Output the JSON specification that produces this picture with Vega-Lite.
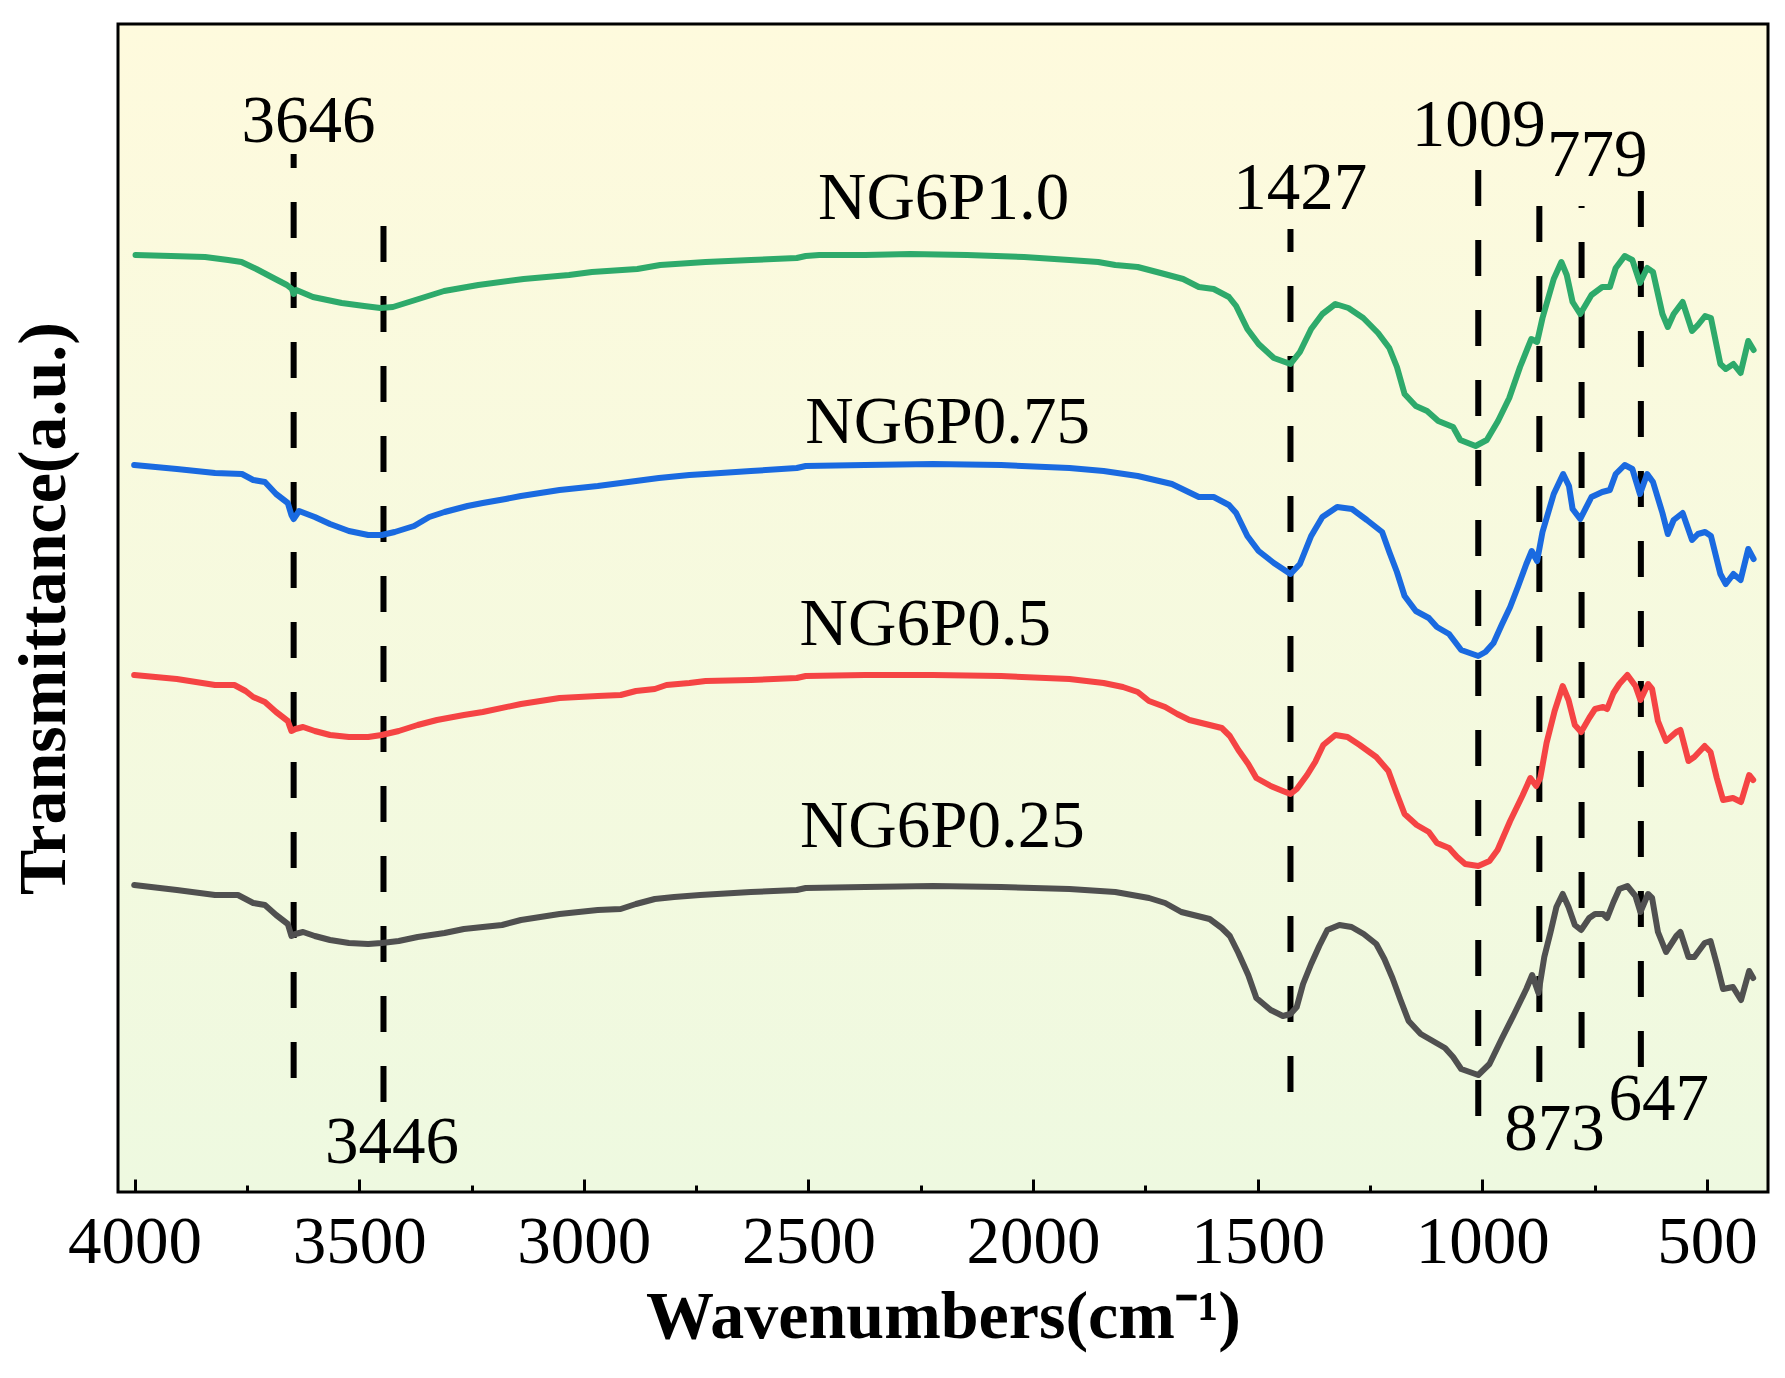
{
  "$schema": "https://vega.github.io/schema/vega-lite/v6.json",
  "width": 1650,
  "height": 1168,
  "autosize": {"type": "none"},
  "padding": {"left": 118, "top": 24, "right": 17, "bottom": 186},
  "background": "white",
  "config": {
    "view": {
      "stroke": "black",
      "strokeWidth": 3,
      "fill": {"gradient": "linear", "x1": 0, "y1": 0, "x2": 0, "y2": 1,
        "stops": [{"offset": 0, "color": "#fefadd"}, {"offset": 1, "color": "#eef9e0"}]}
    },
    "font": "Liberation Serif",
    "axis": {"labelFont": "Liberation Serif", "titleFont": "Liberation Serif", "grid": false},
    "axisY": {"ticks": false, "labels": false, "domain": false, "titleFontSize": 68, "titleFontWeight": "bold", "titleColor": "black", "titlePadding": 40}
  },
  "datasets": {
    "spectra": [
      {"s":"NG6P1.0","w":3998,"t":937},{"s":"NG6P1.0","w":3919,"t":936},{"s":"NG6P1.0","w":3843,"t":935},{"s":"NG6P1.0","w":3792,"t":932},{"s":"NG6P1.0","w":3762,"t":930},{"s":"NG6P1.0","w":3729,"t":923},{"s":"NG6P1.0","w":3691,"t":914},{"s":"NG6P1.0","w":3661,"t":907},{"s":"NG6P1.0","w":3650,"t":903},{"s":"NG6P1.0","w":3646,"t":898},{"s":"NG6P1.0","w":3640,"t":902},{"s":"NG6P1.0","w":3603,"t":895},{"s":"NG6P1.0","w":3539,"t":889},{"s":"NG6P1.0","w":3489,"t":886},{"s":"NG6P1.0","w":3453,"t":884},{"s":"NG6P1.0","w":3425,"t":885},{"s":"NG6P1.0","w":3375,"t":892},{"s":"NG6P1.0","w":3311,"t":901},{"s":"NG6P1.0","w":3235,"t":907},{"s":"NG6P1.0","w":3134,"t":913},{"s":"NG6P1.0","w":3033,"t":917},{"s":"NG6P1.0","w":2982,"t":920},{"s":"NG6P1.0","w":2881,"t":923},{"s":"NG6P1.0","w":2830,"t":927},{"s":"NG6P1.0","w":2729,"t":930},{"s":"NG6P1.0","w":2628,"t":932},{"s":"NG6P1.0","w":2526,"t":934},{"s":"NG6P1.0","w":2506,"t":936},{"s":"NG6P1.0","w":2476,"t":937},{"s":"NG6P1.0","w":2374,"t":937},{"s":"NG6P1.0","w":2273,"t":938},{"s":"NG6P1.0","w":2147,"t":937},{"s":"NG6P1.0","w":2020,"t":935},{"s":"NG6P1.0","w":1919,"t":932},{"s":"NG6P1.0","w":1855,"t":930},{"s":"NG6P1.0","w":1817,"t":927},{"s":"NG6P1.0","w":1767,"t":925},{"s":"NG6P1.0","w":1716,"t":919},{"s":"NG6P1.0","w":1666,"t":913},{"s":"NG6P1.0","w":1631,"t":905},{"s":"NG6P1.0","w":1598,"t":903},{"s":"NG6P1.0","w":1564,"t":895},{"s":"NG6P1.0","w":1548,"t":886},{"s":"NG6P1.0","w":1523,"t":863},{"s":"NG6P1.0","w":1498,"t":848},{"s":"NG6P1.0","w":1464,"t":834},{"s":"NG6P1.0","w":1427,"t":828},{"s":"NG6P1.0","w":1406,"t":840},{"s":"NG6P1.0","w":1381,"t":863},{"s":"NG6P1.0","w":1356,"t":878},{"s":"NG6P1.0","w":1327,"t":888},{"s":"NG6P1.0","w":1298,"t":884},{"s":"NG6P1.0","w":1265,"t":874},{"s":"NG6P1.0","w":1232,"t":859},{"s":"NG6P1.0","w":1207,"t":844},{"s":"NG6P1.0","w":1190,"t":825},{"s":"NG6P1.0","w":1173,"t":798},{"s":"NG6P1.0","w":1148,"t":786},{"s":"NG6P1.0","w":1123,"t":781},{"s":"NG6P1.0","w":1098,"t":771},{"s":"NG6P1.0","w":1065,"t":765},{"s":"NG6P1.0","w":1049,"t":752},{"s":"NG6P1.0","w":1015,"t":746},{"s":"NG6P1.0","w":990,"t":752},{"s":"NG6P1.0","w":965,"t":771},{"s":"NG6P1.0","w":940,"t":794},{"s":"NG6P1.0","w":916,"t":825},{"s":"NG6P1.0","w":891,"t":853},{"s":"NG6P1.0","w":878,"t":850},{"s":"NG6P1.0","w":866,"t":874},{"s":"NG6P1.0","w":841,"t":913},{"s":"NG6P1.0","w":824,"t":930},{"s":"NG6P1.0","w":812,"t":917},{"s":"NG6P1.0","w":799,"t":890},{"s":"NG6P1.0","w":782,"t":878},{"s":"NG6P1.0","w":757,"t":897},{"s":"NG6P1.0","w":733,"t":905},{"s":"NG6P1.0","w":716,"t":905},{"s":"NG6P1.0","w":703,"t":924},{"s":"NG6P1.0","w":683,"t":936},{"s":"NG6P1.0","w":666,"t":932},{"s":"NG6P1.0","w":649,"t":909},{"s":"NG6P1.0","w":633,"t":924},{"s":"NG6P1.0","w":620,"t":920},{"s":"NG6P1.0","w":599,"t":878},{"s":"NG6P1.0","w":587,"t":865},{"s":"NG6P1.0","w":574,"t":878},{"s":"NG6P1.0","w":554,"t":890},{"s":"NG6P1.0","w":533,"t":861},{"s":"NG6P1.0","w":520,"t":867},{"s":"NG6P1.0","w":504,"t":876},{"s":"NG6P1.0","w":491,"t":874},{"s":"NG6P1.0","w":470,"t":828},{"s":"NG6P1.0","w":458,"t":823},{"s":"NG6P1.0","w":441,"t":828},{"s":"NG6P1.0","w":425,"t":819},{"s":"NG6P1.0","w":408,"t":851},{"s":"NG6P1.0","w":396,"t":842},

      {"s":"NG6P0.75","w":4001,"t":727},{"s":"NG6P0.75","w":3906,"t":723},{"s":"NG6P0.75","w":3821,"t":719},{"s":"NG6P0.75","w":3761,"t":718},{"s":"NG6P0.75","w":3736,"t":712},{"s":"NG6P0.75","w":3710,"t":710},{"s":"NG6P0.75","w":3685,"t":698},{"s":"NG6P0.75","w":3659,"t":689},{"s":"NG6P0.75","w":3651,"t":677},{"s":"NG6P0.75","w":3646,"t":673},{"s":"NG6P0.75","w":3634,"t":681},{"s":"NG6P0.75","w":3599,"t":675},{"s":"NG6P0.75","w":3565,"t":668},{"s":"NG6P0.75","w":3523,"t":661},{"s":"NG6P0.75","w":3480,"t":657},{"s":"NG6P0.75","w":3450,"t":657},{"s":"NG6P0.75","w":3421,"t":660},{"s":"NG6P0.75","w":3378,"t":666},{"s":"NG6P0.75","w":3344,"t":675},{"s":"NG6P0.75","w":3310,"t":680},{"s":"NG6P0.75","w":3259,"t":686},{"s":"NG6P0.75","w":3225,"t":689},{"s":"NG6P0.75","w":3174,"t":693},{"s":"NG6P0.75","w":3140,"t":696},{"s":"NG6P0.75","w":3054,"t":702},{"s":"NG6P0.75","w":2969,"t":706},{"s":"NG6P0.75","w":2884,"t":711},{"s":"NG6P0.75","w":2833,"t":714},{"s":"NG6P0.75","w":2765,"t":717},{"s":"NG6P0.75","w":2729,"t":718},{"s":"NG6P0.75","w":2628,"t":721},{"s":"NG6P0.75","w":2526,"t":724},{"s":"NG6P0.75","w":2506,"t":726},{"s":"NG6P0.75","w":2374,"t":727},{"s":"NG6P0.75","w":2223,"t":728},{"s":"NG6P0.75","w":2071,"t":727},{"s":"NG6P0.75","w":1919,"t":724},{"s":"NG6P0.75","w":1843,"t":721},{"s":"NG6P0.75","w":1767,"t":716},{"s":"NG6P0.75","w":1691,"t":708},{"s":"NG6P0.75","w":1631,"t":695},{"s":"NG6P0.75","w":1598,"t":695},{"s":"NG6P0.75","w":1564,"t":687},{"s":"NG6P0.75","w":1548,"t":679},{"s":"NG6P0.75","w":1523,"t":656},{"s":"NG6P0.75","w":1498,"t":641},{"s":"NG6P0.75","w":1464,"t":629},{"s":"NG6P0.75","w":1427,"t":618},{"s":"NG6P0.75","w":1406,"t":628},{"s":"NG6P0.75","w":1381,"t":656},{"s":"NG6P0.75","w":1356,"t":675},{"s":"NG6P0.75","w":1323,"t":685},{"s":"NG6P0.75","w":1290,"t":683},{"s":"NG6P0.75","w":1257,"t":672},{"s":"NG6P0.75","w":1223,"t":660},{"s":"NG6P0.75","w":1207,"t":640},{"s":"NG6P0.75","w":1190,"t":620},{"s":"NG6P0.75","w":1173,"t":596},{"s":"NG6P0.75","w":1148,"t":581},{"s":"NG6P0.75","w":1119,"t":574},{"s":"NG6P0.75","w":1101,"t":565},{"s":"NG6P0.75","w":1074,"t":558},{"s":"NG6P0.75","w":1047,"t":542},{"s":"NG6P0.75","w":1009,"t":536},{"s":"NG6P0.75","w":993,"t":540},{"s":"NG6P0.75","w":975,"t":549},{"s":"NG6P0.75","w":957,"t":567},{"s":"NG6P0.75","w":938,"t":585},{"s":"NG6P0.75","w":920,"t":606},{"s":"NG6P0.75","w":902,"t":628},{"s":"NG6P0.75","w":890,"t":641},{"s":"NG6P0.75","w":878,"t":631},{"s":"NG6P0.75","w":866,"t":660},{"s":"NG6P0.75","w":841,"t":698},{"s":"NG6P0.75","w":820,"t":718},{"s":"NG6P0.75","w":807,"t":706},{"s":"NG6P0.75","w":799,"t":683},{"s":"NG6P0.75","w":782,"t":673},{"s":"NG6P0.75","w":757,"t":695},{"s":"NG6P0.75","w":733,"t":700},{"s":"NG6P0.75","w":716,"t":702},{"s":"NG6P0.75","w":703,"t":718},{"s":"NG6P0.75","w":683,"t":727},{"s":"NG6P0.75","w":666,"t":723},{"s":"NG6P0.75","w":649,"t":698},{"s":"NG6P0.75","w":633,"t":718},{"s":"NG6P0.75","w":620,"t":710},{"s":"NG6P0.75","w":599,"t":679},{"s":"NG6P0.75","w":587,"t":658},{"s":"NG6P0.75","w":574,"t":672},{"s":"NG6P0.75","w":554,"t":679},{"s":"NG6P0.75","w":533,"t":652},{"s":"NG6P0.75","w":520,"t":658},{"s":"NG6P0.75","w":504,"t":660},{"s":"NG6P0.75","w":491,"t":656},{"s":"NG6P0.75","w":470,"t":618},{"s":"NG6P0.75","w":458,"t":608},{"s":"NG6P0.75","w":441,"t":618},{"s":"NG6P0.75","w":425,"t":612},{"s":"NG6P0.75","w":408,"t":643},{"s":"NG6P0.75","w":396,"t":633},

      {"s":"NG6P0.5","w":4001,"t":517},{"s":"NG6P0.5","w":3906,"t":513},{"s":"NG6P0.5","w":3821,"t":507},{"s":"NG6P0.5","w":3778,"t":507},{"s":"NG6P0.5","w":3753,"t":501},{"s":"NG6P0.5","w":3736,"t":495},{"s":"NG6P0.5","w":3710,"t":490},{"s":"NG6P0.5","w":3685,"t":480},{"s":"NG6P0.5","w":3659,"t":471},{"s":"NG6P0.5","w":3651,"t":461},{"s":"NG6P0.5","w":3642,"t":463},{"s":"NG6P0.5","w":3625,"t":465},{"s":"NG6P0.5","w":3599,"t":461},{"s":"NG6P0.5","w":3565,"t":457},{"s":"NG6P0.5","w":3523,"t":455},{"s":"NG6P0.5","w":3480,"t":455},{"s":"NG6P0.5","w":3450,"t":457},{"s":"NG6P0.5","w":3412,"t":461},{"s":"NG6P0.5","w":3370,"t":467},{"s":"NG6P0.5","w":3327,"t":472},{"s":"NG6P0.5","w":3267,"t":477},{"s":"NG6P0.5","w":3225,"t":480},{"s":"NG6P0.5","w":3140,"t":488},{"s":"NG6P0.5","w":3054,"t":494},{"s":"NG6P0.5","w":2969,"t":496},{"s":"NG6P0.5","w":2918,"t":497},{"s":"NG6P0.5","w":2884,"t":501},{"s":"NG6P0.5","w":2842,"t":503},{"s":"NG6P0.5","w":2816,"t":507},{"s":"NG6P0.5","w":2765,"t":509},{"s":"NG6P0.5","w":2729,"t":511},{"s":"NG6P0.5","w":2628,"t":512},{"s":"NG6P0.5","w":2526,"t":514},{"s":"NG6P0.5","w":2506,"t":516},{"s":"NG6P0.5","w":2374,"t":517},{"s":"NG6P0.5","w":2223,"t":517},{"s":"NG6P0.5","w":2071,"t":516},{"s":"NG6P0.5","w":1919,"t":513},{"s":"NG6P0.5","w":1843,"t":509},{"s":"NG6P0.5","w":1800,"t":505},{"s":"NG6P0.5","w":1767,"t":500},{"s":"NG6P0.5","w":1742,"t":491},{"s":"NG6P0.5","w":1706,"t":485},{"s":"NG6P0.5","w":1679,"t":478},{"s":"NG6P0.5","w":1652,"t":472},{"s":"NG6P0.5","w":1607,"t":467},{"s":"NG6P0.5","w":1580,"t":464},{"s":"NG6P0.5","w":1562,"t":456},{"s":"NG6P0.5","w":1543,"t":442},{"s":"NG6P0.5","w":1521,"t":428},{"s":"NG6P0.5","w":1503,"t":414},{"s":"NG6P0.5","w":1471,"t":406},{"s":"NG6P0.5","w":1444,"t":401},{"s":"NG6P0.5","w":1427,"t":398},{"s":"NG6P0.5","w":1413,"t":403},{"s":"NG6P0.5","w":1390,"t":417},{"s":"NG6P0.5","w":1372,"t":430},{"s":"NG6P0.5","w":1354,"t":447},{"s":"NG6P0.5","w":1327,"t":457},{"s":"NG6P0.5","w":1300,"t":455},{"s":"NG6P0.5","w":1273,"t":447},{"s":"NG6P0.5","w":1236,"t":435},{"s":"NG6P0.5","w":1209,"t":421},{"s":"NG6P0.5","w":1191,"t":399},{"s":"NG6P0.5","w":1173,"t":378},{"s":"NG6P0.5","w":1146,"t":367},{"s":"NG6P0.5","w":1119,"t":360},{"s":"NG6P0.5","w":1101,"t":349},{"s":"NG6P0.5","w":1074,"t":344},{"s":"NG6P0.5","w":1056,"t":335},{"s":"NG6P0.5","w":1038,"t":328},{"s":"NG6P0.5","w":1009,"t":326},{"s":"NG6P0.5","w":984,"t":331},{"s":"NG6P0.5","w":966,"t":342},{"s":"NG6P0.5","w":938,"t":371},{"s":"NG6P0.5","w":911,"t":396},{"s":"NG6P0.5","w":893,"t":414},{"s":"NG6P0.5","w":880,"t":406},{"s":"NG6P0.5","w":871,"t":414},{"s":"NG6P0.5","w":857,"t":449},{"s":"NG6P0.5","w":839,"t":481},{"s":"NG6P0.5","w":821,"t":506},{"s":"NG6P0.5","w":808,"t":492},{"s":"NG6P0.5","w":794,"t":467},{"s":"NG6P0.5","w":780,"t":460},{"s":"NG6P0.5","w":762,"t":474},{"s":"NG6P0.5","w":749,"t":483},{"s":"NG6P0.5","w":731,"t":485},{"s":"NG6P0.5","w":722,"t":483},{"s":"NG6P0.5","w":708,"t":499},{"s":"NG6P0.5","w":695,"t":508},{"s":"NG6P0.5","w":677,"t":517},{"s":"NG6P0.5","w":659,"t":506},{"s":"NG6P0.5","w":648,"t":492},{"s":"NG6P0.5","w":631,"t":508},{"s":"NG6P0.5","w":622,"t":503},{"s":"NG6P0.5","w":609,"t":471},{"s":"NG6P0.5","w":591,"t":451},{"s":"NG6P0.5","w":568,"t":460},{"s":"NG6P0.5","w":559,"t":462},{"s":"NG6P0.5","w":541,"t":431},{"s":"NG6P0.5","w":528,"t":435},{"s":"NG6P0.5","w":505,"t":446},{"s":"NG6P0.5","w":492,"t":440},{"s":"NG6P0.5","w":478,"t":414},{"s":"NG6P0.5","w":464,"t":392},{"s":"NG6P0.5","w":442,"t":394},{"s":"NG6P0.5","w":424,"t":390},{"s":"NG6P0.5","w":406,"t":417},{"s":"NG6P0.5","w":397,"t":412},

      {"s":"NG6P0.25","w":4001,"t":307},{"s":"NG6P0.25","w":3906,"t":302},{"s":"NG6P0.25","w":3821,"t":297},{"s":"NG6P0.25","w":3770,"t":297},{"s":"NG6P0.25","w":3753,"t":293},{"s":"NG6P0.25","w":3736,"t":289},{"s":"NG6P0.25","w":3710,"t":287},{"s":"NG6P0.25","w":3685,"t":277},{"s":"NG6P0.25","w":3659,"t":268},{"s":"NG6P0.25","w":3651,"t":256},{"s":"NG6P0.25","w":3642,"t":258},{"s":"NG6P0.25","w":3625,"t":260},{"s":"NG6P0.25","w":3599,"t":256},{"s":"NG6P0.25","w":3565,"t":252},{"s":"NG6P0.25","w":3523,"t":249},{"s":"NG6P0.25","w":3480,"t":248},{"s":"NG6P0.25","w":3450,"t":249},{"s":"NG6P0.25","w":3412,"t":251},{"s":"NG6P0.25","w":3370,"t":255},{"s":"NG6P0.25","w":3310,"t":259},{"s":"NG6P0.25","w":3267,"t":263},{"s":"NG6P0.25","w":3225,"t":265},{"s":"NG6P0.25","w":3182,"t":267},{"s":"NG6P0.25","w":3140,"t":272},{"s":"NG6P0.25","w":3054,"t":278},{"s":"NG6P0.25","w":2969,"t":282},{"s":"NG6P0.25","w":2918,"t":283},{"s":"NG6P0.25","w":2884,"t":288},{"s":"NG6P0.25","w":2842,"t":293},{"s":"NG6P0.25","w":2799,"t":295},{"s":"NG6P0.25","w":2741,"t":297},{"s":"NG6P0.25","w":2628,"t":300},{"s":"NG6P0.25","w":2526,"t":302},{"s":"NG6P0.25","w":2506,"t":304},{"s":"NG6P0.25","w":2374,"t":305},{"s":"NG6P0.25","w":2223,"t":306},{"s":"NG6P0.25","w":2071,"t":305},{"s":"NG6P0.25","w":1919,"t":303},{"s":"NG6P0.25","w":1817,"t":300},{"s":"NG6P0.25","w":1742,"t":294},{"s":"NG6P0.25","w":1706,"t":289},{"s":"NG6P0.25","w":1670,"t":280},{"s":"NG6P0.25","w":1652,"t":278},{"s":"NG6P0.25","w":1607,"t":273},{"s":"NG6P0.25","w":1580,"t":264},{"s":"NG6P0.25","w":1562,"t":256},{"s":"NG6P0.25","w":1543,"t":239},{"s":"NG6P0.25","w":1521,"t":217},{"s":"NG6P0.25","w":1503,"t":194},{"s":"NG6P0.25","w":1471,"t":182},{"s":"NG6P0.25","w":1444,"t":176},{"s":"NG6P0.25","w":1427,"t":178},{"s":"NG6P0.25","w":1413,"t":185},{"s":"NG6P0.25","w":1399,"t":208},{"s":"NG6P0.25","w":1381,"t":228},{"s":"NG6P0.25","w":1363,"t":246},{"s":"NG6P0.25","w":1345,"t":262},{"s":"NG6P0.25","w":1318,"t":267},{"s":"NG6P0.25","w":1291,"t":265},{"s":"NG6P0.25","w":1264,"t":258},{"s":"NG6P0.25","w":1236,"t":248},{"s":"NG6P0.25","w":1218,"t":233},{"s":"NG6P0.25","w":1200,"t":214},{"s":"NG6P0.25","w":1182,"t":192},{"s":"NG6P0.25","w":1164,"t":171},{"s":"NG6P0.25","w":1137,"t":158},{"s":"NG6P0.25","w":1110,"t":151},{"s":"NG6P0.25","w":1083,"t":144},{"s":"NG6P0.25","w":1065,"t":135},{"s":"NG6P0.25","w":1047,"t":123},{"s":"NG6P0.25","w":1009,"t":117},{"s":"NG6P0.25","w":984,"t":128},{"s":"NG6P0.25","w":957,"t":153},{"s":"NG6P0.25","w":929,"t":178},{"s":"NG6P0.25","w":902,"t":203},{"s":"NG6P0.25","w":889,"t":217},{"s":"NG6P0.25","w":875,"t":199},{"s":"NG6P0.25","w":862,"t":235},{"s":"NG6P0.25","w":848,"t":260},{"s":"NG6P0.25","w":835,"t":285},{"s":"NG6P0.25","w":821,"t":298},{"s":"NG6P0.25","w":808,"t":285},{"s":"NG6P0.25","w":794,"t":267},{"s":"NG6P0.25","w":780,"t":262},{"s":"NG6P0.25","w":762,"t":274},{"s":"NG6P0.25","w":749,"t":278},{"s":"NG6P0.25","w":731,"t":278},{"s":"NG6P0.25","w":722,"t":274},{"s":"NG6P0.25","w":708,"t":290},{"s":"NG6P0.25","w":695,"t":303},{"s":"NG6P0.25","w":677,"t":306},{"s":"NG6P0.25","w":659,"t":296},{"s":"NG6P0.25","w":648,"t":280},{"s":"NG6P0.25","w":631,"t":298},{"s":"NG6P0.25","w":622,"t":294},{"s":"NG6P0.25","w":609,"t":260},{"s":"NG6P0.25","w":591,"t":240},{"s":"NG6P0.25","w":568,"t":256},{"s":"NG6P0.25","w":559,"t":260},{"s":"NG6P0.25","w":541,"t":235},{"s":"NG6P0.25","w":528,"t":235},{"s":"NG6P0.25","w":505,"t":249},{"s":"NG6P0.25","w":492,"t":251},{"s":"NG6P0.25","w":478,"t":228},{"s":"NG6P0.25","w":464,"t":203},{"s":"NG6P0.25","w":442,"t":205},{"s":"NG6P0.25","w":424,"t":192},{"s":"NG6P0.25","w":406,"t":221},{"s":"NG6P0.25","w":397,"t":214}
    ],
    "peaks": [
      {"w": 3646, "bottom": 114, "top": 1038},
      {"w": 3446, "bottom": 90, "top": 967},
      {"w": 1427, "bottom": 100, "top": 963},
      {"w": 1009, "bottom": 76, "top": 1024},
      {"w": 873, "bottom": 110, "top": 988},
      {"w": 779, "bottom": 144, "top": 986},
      {"w": 647, "bottom": 125, "top": 1003}
    ],
    "labels": [
      {"label": "3646", "w": 3613, "y": 1050},
      {"label": "3446", "w": 3427, "y": 29},
      {"label": "1427", "w": 1405, "y": 983},
      {"label": "1009", "w": 1008, "y": 1046},
      {"label": "779", "w": 744, "y": 1016},
      {"label": "873", "w": 839, "y": 42},
      {"label": "647", "w": 607, "y": 72},
      {"label": "NG6P1.0", "w": 2199, "y": 973},
      {"label": "NG6P0.75", "w": 2190, "y": 749},
      {"label": "NG6P0.5", "w": 2240, "y": 547},
      {"label": "NG6P0.25", "w": 2202, "y": 345}
    ]
  },
  "layer": [
    {
      "data": {"name": "peaks"},
      "mark": {"type": "rule", "color": "black", "strokeWidth": 6, "strokeDash": [36, 34], "strokeCap": "butt"},
      "encoding": {
        "x": {
          "field": "w", "type": "quantitative",
          "scale": {"domain": [364, 4037], "reverse": true, "nice": false, "zero": false},
          "axis": {"orient": "bottom", "values": [4000, 3500, 3000, 2500, 2000, 1500, 1000, 500], "labels": false, "domain": false, "ticks": true, "tickSize": -13, "tickWidth": 3, "tickColor": "black", "title": null}
        },
        "y": {"field": "bottom", "type": "quantitative", "scale": {"domain": [0, 1168], "nice": false, "zero": false}, "title": "Transmittance(a.u.)"},
        "y2": {"field": "top"}
      }
    },
    {
      "data": {"name": "spectra"},
      "mark": {"type": "line", "strokeWidth": 6, "strokeJoin": "round", "strokeCap": "round"},
      "encoding": {
        "x": {
          "field": "w", "type": "quantitative",
          "axis": {"orient": "bottom", "values": [4000, 3500, 3000, 2500, 2000, 1500, 1000, 500], "format": "d", "ticks": false, "domain": false, "labelFontSize": 67, "labelColor": "black", "labelPadding": 17, "labelFlush": false, "labelOverlap": false, "title": "Wavenumbers(cm⁻¹)", "titleFontSize": 68, "titleFontWeight": "bold", "titleColor": "black", "titlePadding": 8}
        },
        "y": {"field": "t", "type": "quantitative", "title": "Transmittance(a.u.)"},
        "color": {
          "field": "s", "type": "nominal",
          "scale": {"domain": ["NG6P1.0", "NG6P0.75", "NG6P0.5", "NG6P0.25"], "range": ["#2eaa6b", "#1a6ae0", "#f54444", "#505050"]},
          "legend": null
        }
      }
    },
    {
      "data": {"name": "labels"},
      "mark": {"type": "text", "font": "Liberation Serif", "fontSize": 67, "color": "black", "align": "center", "baseline": "alphabetic"},
      "encoding": {
        "x": {
          "field": "w", "type": "quantitative",
          "axis": {"orient": "bottom", "values": [3750, 3250, 2750, 2250, 1750, 1250, 750], "labels": false, "domain": false, "ticks": true, "tickSize": -7, "tickWidth": 3, "tickColor": "black", "title": null}
        },
        "y": {"field": "y", "type": "quantitative", "title": "Transmittance(a.u.)"},
        "text": {"field": "label"}
      }
    }
  ],
  "resolve": {"axis": {"x": "independent"}}
}
